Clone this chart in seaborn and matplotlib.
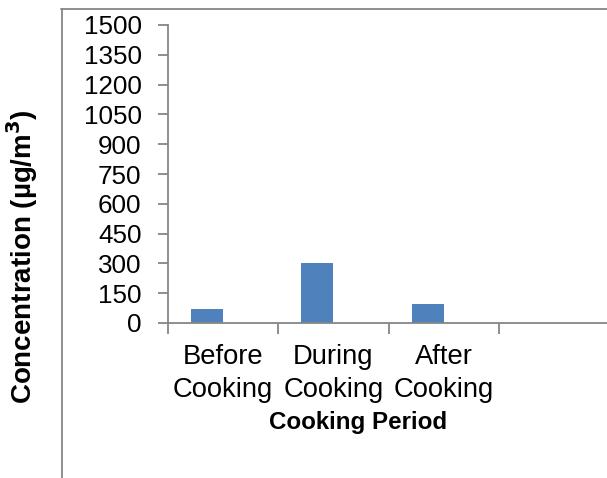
import matplotlib
matplotlib.use("Agg")
import matplotlib.pyplot as plt
from matplotlib.lines import Line2D
from matplotlib.ticker import FixedLocator
import seaborn as sns
import pandas as pd

# Mean concentration by cooking period (second series is empty)
periods = ["Before\nCooking", "During\nCooking", "After\nCooking"]
series_names = ["Series1", "Series2"]
series1 = [70, 300, 95]
series2 = [0, 0, 0]
y_ticks = [0, 150, 300, 450, 600, 750, 900, 1050, 1200, 1350, 1500]

df = pd.DataFrame({
    "period": periods * 2,
    "series": [series_names[0]] * len(periods) + [series_names[1]] * len(periods),
    "value": series1 + series2,
})

sns.set_theme(style="white")
plt.rcParams["font.family"] = ["Liberation Sans", "DejaVu Sans"]
plt.rcParams["text.color"] = "black"

W, H = 607, 478
fig = plt.figure(figsize=(W / 100, H / 100), dpi=100)
ax = fig.add_axes([168 / W, 1 - 323 / H, 441 / W, 298 / H])

sns.barplot(data=df, x="period", y="value", hue="series", order=periods,
            hue_order=series_names, palette=["#4F81BD", "#C0504D"],
            saturation=1, width=0.58, gap=0, edgecolor="none", linewidth=0,
            legend=False, ax=ax)

ax.set_xlim(-0.5, 3.5)
ax.set_ylim(0, 1500)
ax.set_yticks(y_ticks)
ax.set_xlabel("")
ax.set_ylabel("")

gray = "#868686"
for side in ["top", "right"]:
    ax.spines[side].set_visible(False)
for side in ["left", "bottom"]:
    ax.spines[side].set_color(gray)
    ax.spines[side].set_linewidth(1.3)

ax.tick_params(axis="y", which="major", direction="out", length=7, width=1.3,
               color=gray, left=True, labelsize=18.7, pad=12, labelcolor="black")
ax.tick_params(axis="x", which="major", length=0, labelsize=19.7, pad=15,
               labelcolor="black")
ax.xaxis.set_minor_locator(FixedLocator([-0.5, 0.5, 1.5, 2.5, 3.5]))
ax.tick_params(axis="x", which="minor", direction="out", length=8, width=1.3,
               color=gray, bottom=True)
for lbl in ax.get_xticklabels():
    lbl.set_linespacing(1.34)

fig.text(358 / W, 1 - 429 / H, "Cooking Period", ha="center", va="baseline",
         fontsize=17.4, fontweight="bold", color="black")
fig.text(22 / W, 1 - 257 / H, "Concentration (µg/m$^{\\mathbf{3}}$)", rotation=90,
         ha="center", va="center", fontsize=20, fontweight="bold", color="black")

# Chart area frame
fig.add_artist(Line2D([61.5 / W, 61.5 / W], [1 - 8.5 / H, 0], color=gray, lw=1.3,
                      transform=fig.transFigure))
fig.add_artist(Line2D([61 / W, 1], [1 - 8.5 / H, 1 - 8.5 / H], color=gray, lw=1.3,
                      transform=fig.transFigure))

fig.savefig("out.png", dpi=100)
